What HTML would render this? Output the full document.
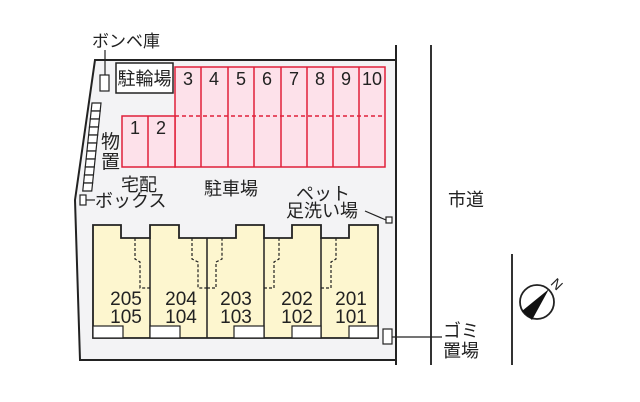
<!DOCTYPE html>
<html><head><meta charset="utf-8"><style>
html,body{margin:0;padding:0;background:#fff;}
svg{display:block;}
text{font-family:"Liberation Sans","Noto Sans CJK JP",sans-serif;fill:#222;}
</style></head><body>
<svg width="640" height="402" viewBox="0 0 640 402" xmlns="http://www.w3.org/2000/svg">
<polygon points="95,60 396,60 396,360 80,360 75,200" fill="#f3f3f5" stroke="none"/>
<polyline points="396,45 396,365" stroke="#222" stroke-width="2" fill="none"/>
<polyline points="396,60 95,60 75,200 80,360 396,360" stroke="#222" stroke-width="2" fill="none"/>
<line x1="431" y1="45" x2="431" y2="365" stroke="#333" stroke-width="2"/>
<line x1="512" y1="254" x2="512" y2="365" stroke="#333" stroke-width="2"/>
<g stroke="#e0203a" stroke-width="1.5" fill="#fde1ea">
<rect x="175" y="67" width="210" height="100"/>
<rect x="122" y="116" width="53" height="51"/>
</g>
<g stroke="#e0203a" stroke-width="1.5">
<line x1="148" y1="116" x2="148" y2="167"/>
<line x1="201" y1="67" x2="201" y2="167"/>
<line x1="228" y1="67" x2="228" y2="167"/>
<line x1="254" y1="67" x2="254" y2="167"/>
<line x1="281" y1="67" x2="281" y2="167"/>
<line x1="307" y1="67" x2="307" y2="167"/>
<line x1="333" y1="67" x2="333" y2="167"/>
<line x1="359" y1="67" x2="359" y2="167"/>
<line x1="175" y1="116" x2="385" y2="116" stroke-dasharray="4,3"/>
</g>
<g font-size="18" text-anchor="middle">
<text x="135" y="134">1</text><text x="161" y="134">2</text>
<text x="188" y="85">3</text><text x="214" y="85">4</text><text x="241" y="85">5</text><text x="267" y="85">6</text>
<text x="294" y="85">7</text><text x="320" y="85">8</text><text x="346" y="85">9</text><text x="372" y="85">10</text>
</g>
<rect x="116" y="63" width="57" height="30" fill="#fff" stroke="#222" stroke-width="1.5"/>
<text x="144.5" y="85" font-size="18" text-anchor="middle">駐輪場</text>
<text x="92" y="47" font-size="17">ボンベ庫</text>
<line x1="105" y1="50" x2="105" y2="75" stroke="#222" stroke-width="1.2"/>
<rect x="100" y="75" width="9" height="16" fill="#fff" stroke="#222" stroke-width="1.2"/>
<g transform="translate(92,103) skewX(-6)" stroke="#222" stroke-width="1.2" fill="#fff">
<rect x="0" y="0" width="9" height="8"/><rect x="0" y="8" width="9" height="8"/><rect x="0" y="16" width="9" height="8"/>
<rect x="0" y="24" width="9" height="8"/><rect x="0" y="32" width="9" height="8"/><rect x="0" y="40" width="9" height="8"/>
<rect x="0" y="48" width="9" height="8"/><rect x="0" y="56" width="9" height="8"/><rect x="0" y="64" width="9" height="8"/>
<rect x="0" y="72" width="9" height="8"/><rect x="0" y="80" width="9" height="8"/>
</g>
<text x="101" y="148" font-size="19">物</text>
<text x="101" y="168" font-size="19">置</text>
<text x="121" y="191" font-size="18">宅配</text>
<rect x="80" y="195" width="6" height="10" fill="#fff" stroke="#222" stroke-width="1.2"/>
<line x1="86" y1="200" x2="95" y2="200" stroke="#222" stroke-width="1.2"/>
<text x="95" y="207" font-size="18">ボックス</text>
<text x="204" y="195" font-size="18">駐車場</text>
<text x="296" y="200" font-size="18">ペット</text>
<text x="286" y="217" font-size="18">足洗い場</text>
<line x1="365" y1="211" x2="386" y2="220" stroke="#222" stroke-width="1.2"/>
<rect x="386" y="217" width="6" height="6" fill="#fff" stroke="#222" stroke-width="1.2"/>
<polygon points="93,225 121,225 121,238 150,238 150,225 179,225 179,238 236,238 236,225 264,225 264,238 292,238 292,225 321,225 321,238 349,238 349,225 378,225 378,338 93,338" fill="#fdf6cf" stroke="#222" stroke-width="1.8"/>
<g stroke="#222" stroke-width="1.5">
<line x1="150" y1="238" x2="150" y2="338"/>
<line x1="207" y1="238" x2="207" y2="338"/>
<line x1="264" y1="238" x2="264" y2="338"/>
<line x1="321" y1="238" x2="321" y2="338"/>
</g>
<g stroke="#222" stroke-width="1.2" fill="none" stroke-dasharray="3,2">
<polyline points="135,238 135,259 140,262 140,288 150,288"/>
<polyline points="192,238 192,259 198,262 198,288 207,288"/>
<polyline points="207,288 216,288 216,262 222,259 222,238"/>
<polyline points="264,288 274,288 274,262 279,259 279,238"/>
<polyline points="321,288 331,288 331,262 336,259 336,238"/>
</g>
<g fill="#fff" stroke="#222" stroke-width="1.2">
<rect x="93" y="326" width="30" height="12"/>
<rect x="150" y="326" width="30" height="12"/>
<rect x="234" y="326" width="30" height="12"/>
<rect x="292" y="326" width="29" height="12"/>
<rect x="349" y="326" width="29" height="12"/>
</g>
<g font-size="19" text-anchor="middle">
<text x="126" y="305">205</text><text x="126" y="323">105</text>
<text x="181" y="305">204</text><text x="181" y="323">104</text>
<text x="236" y="305">203</text><text x="236" y="323">103</text>
<text x="297" y="305">202</text><text x="297" y="323">102</text>
<text x="351" y="305">201</text><text x="351" y="323">101</text>
</g>
<rect x="383" y="329" width="9" height="15" fill="#fff" stroke="#222" stroke-width="1.2"/>
<line x1="392" y1="337" x2="442" y2="337" stroke="#222" stroke-width="1.2"/>
<text x="443" y="337" font-size="18">ゴミ</text>
<text x="443" y="357" font-size="18">置場</text>
<text x="448" y="206" font-size="18">市道</text>
<circle cx="537" cy="302" r="17" fill="#fff" stroke="#222" stroke-width="1.8"/>
<polygon points="549,289 522,311 532,320" fill="#111"/>
<text x="557" y="289" font-size="14" transform="rotate(45 557 284)" text-anchor="middle">N</text>
</svg>
</body></html>
